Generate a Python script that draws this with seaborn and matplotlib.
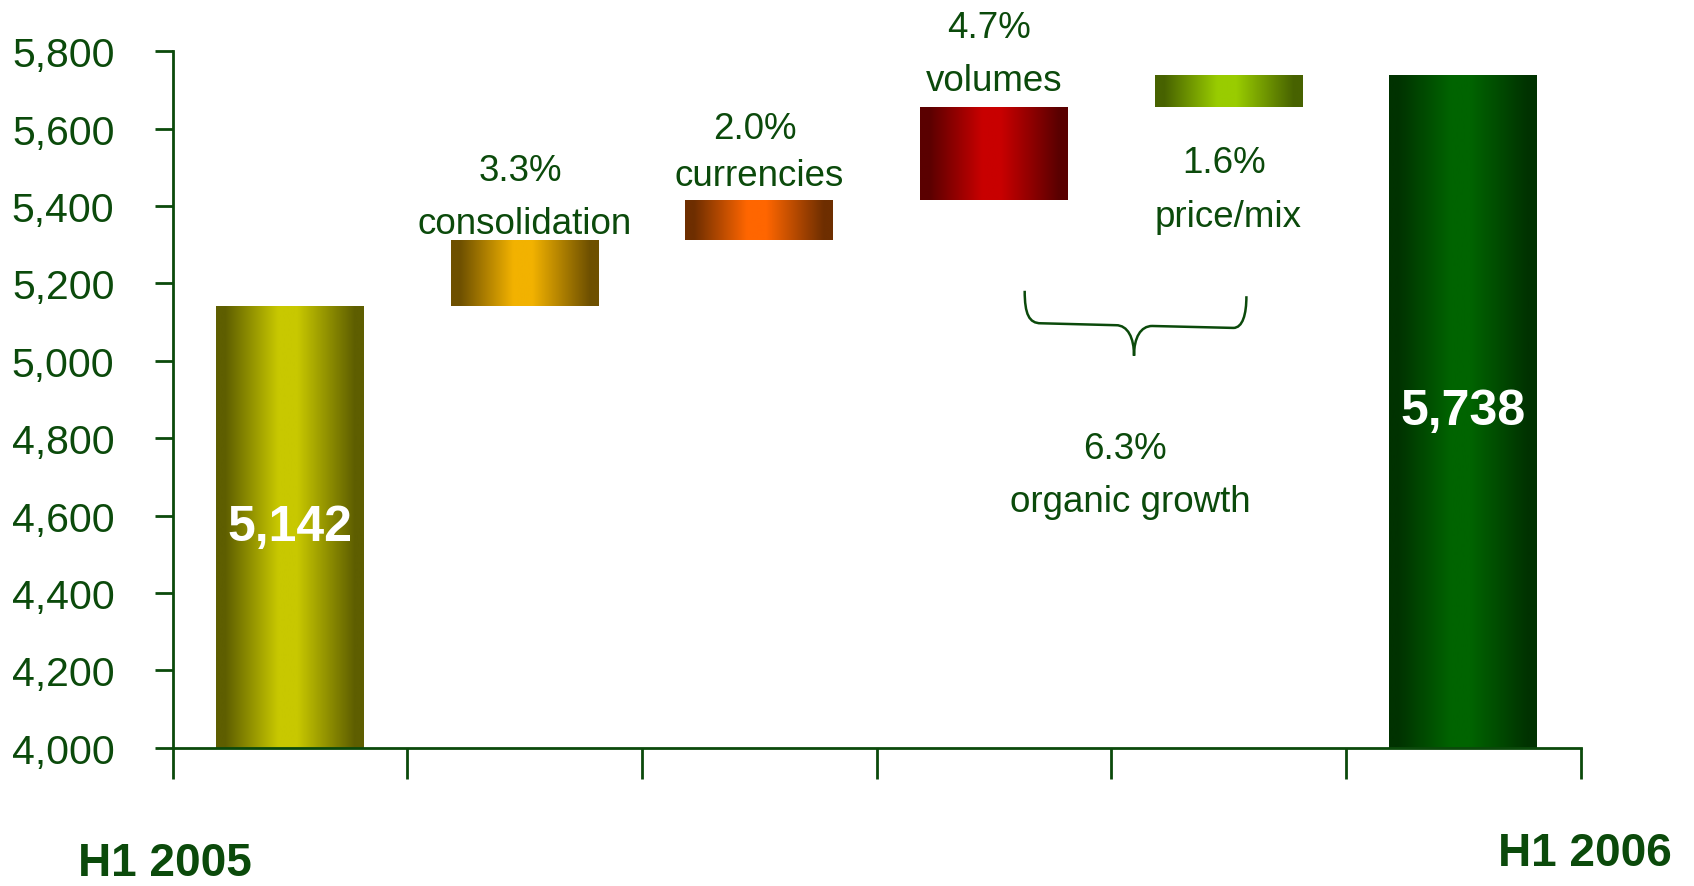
import numpy as np
import pandas as pd
import matplotlib
matplotlib.use("Agg")
import matplotlib.pyplot as plt
from matplotlib.path import Path
from matplotlib.patches import PathPatch
from matplotlib.colors import to_rgb
from matplotlib.ticker import FuncFormatter
import seaborn as sns

# ---- data -------------------------------------------------------------
categories = ["H1 2005", "consolidation", "currencies", "volumes", "price/mix", "H1 2006"]
start_value = 5142
deltas = [170, 103, 241, 82]          # consolidation, currencies, volumes, price/mix
end_value = 5738
pct_labels = ["3.3%", "2.0%", "4.7%", "1.6%", "6.3%"]
step_names = ["consolidation", "currencies", "volumes", "price/mix", "organic growth"]
y_ticks = list(range(4000, 5801, 200))

# bar colours: (edge shade, centre highlight)
bar_colors = [
    ("#5e5e00", "#c8c800"),
    ("#6e5000", "#f2b200"),
    ("#6e2e00", "#ff6600"),
    ("#5a0000", "#c80000"),
    ("#476200", "#99cc00"),
    ("#003200", "#006400"),
]

TEXT = "#0b4a0b"
FLOOR, CEIL = 4000, 5800

# ---- derived waterfall geometry ---------------------------------------
steps_end = start_value + np.cumsum(deltas)
steps_start = np.concatenate([[start_value], steps_end[:-1]])
tops = np.concatenate([[start_value], steps_end, [end_value]])
bottoms = np.concatenate([[FLOOR], steps_start, [FLOOR]])
df = pd.DataFrame({"category": categories, "top": tops})

sns.set_theme(style="white")
plt.rcParams["font.family"] = ["Liberation Sans", "DejaVu Sans"]

fig = plt.figure(figsize=(16.94, 8.87), dpi=100)
ax = fig.add_axes([0.102, 0.156, 0.831, 0.785])

sns.barplot(data=df, x="category", y="top", order=categories, width=0.63,
            ax=ax, saturation=1, color="white")


def gradient_row(dark, bright, n=256):
    d, b = np.array(to_rgb(dark)), np.array(to_rgb(bright))
    stops = [0.0, 0.06, 0.42, 0.55, 0.94, 1.0]
    w = [0.0, 0.0, 1.0, 1.0, 0.0, 0.0]
    t = np.linspace(0, 1, n)
    k = np.interp(t, stops, w)
    return (d[None, :] * (1 - k[:, None]) + b[None, :] * k[:, None])[None, :, :]


for patch, lo, hi, (dark, bright) in zip(ax.patches, bottoms, tops, bar_colors):
    patch.set_y(lo)
    patch.set_height(hi - lo)
    patch.set_facecolor("none")
    patch.set_edgecolor("none")
    x0, w = patch.get_x(), patch.get_width()
    img = ax.imshow(gradient_row(dark, bright), extent=[x0, x0 + w, lo, hi],
                    aspect="auto", interpolation="bilinear", zorder=2)
    img.set_clip_path(patch)

# totals printed inside their bars
for i, v in [(0, start_value), (len(categories) - 1, end_value)]:
    ax.text(i, (FLOOR + v) / 2, f"{v:,}", ha="center", va="center",
            color="white", fontsize=36, fontweight="bold", zorder=3)

# step annotations (percentage above, name below)
label_x = [1, 2, 3, 4, 3.58]
pct_base = [5468, 5577, 5836, 5487, 4748]
name_base = [5331, 5454, 5699, 5348, 4611]
for x, p, n, yp, yn in zip(label_x, pct_labels, step_names, pct_base, name_base):
    ax.text(x - 0.02, yp, p, ha="center", va="baseline", color=TEXT, fontsize=26.5)
    ax.text(x, yn, n, ha="center", va="baseline", color=TEXT, fontsize=26.5)

# brace grouping volumes and price/mix into organic growth
verts = [
    (3.131, 5181), (3.131, 5120), (3.150, 5097), (3.20, 5097),
    (3.52, 5092),
    (3.57, 5092), (3.597, 5060), (3.597, 5013),
    (3.597, 5060), (3.625, 5090), (3.675, 5090),
    (4.02, 5085),
    (4.06, 5085), (4.076, 5120), (4.076, 5167),
]
codes = [Path.MOVETO, Path.CURVE4, Path.CURVE4, Path.CURVE4,
         Path.LINETO,
         Path.CURVE4, Path.CURVE4, Path.CURVE4,
         Path.CURVE4, Path.CURVE4, Path.CURVE4,
         Path.LINETO,
         Path.CURVE4, Path.CURVE4, Path.CURVE4]
ax.add_patch(PathPatch(Path(verts, codes), fill=False, edgecolor=TEXT, lw=1.8, zorder=3))

# axes styling
ax.set_xlim(-0.5, len(categories) - 0.5)
ax.set_ylim(FLOOR, CEIL)
ax.set_yticks(y_ticks)
ax.yaxis.set_major_formatter(FuncFormatter(lambda v, _: f"{int(v):,}"))
ax.set_xticks(np.arange(-0.5, len(categories), 1.0))
ax.set_xticklabels([])
ax.set_xlabel("")
ax.set_ylabel("")
for side in ["top", "right"]:
    ax.spines[side].set_visible(False)
for side in ["left", "bottom"]:
    ax.spines[side].set_color(TEXT)
    ax.spines[side].set_linewidth(2)
ax.tick_params(axis="y", which="major", left=True, length=13, width=2,
               color=TEXT, labelcolor=TEXT, labelsize=29.5, pad=29)
ax.tick_params(axis="x", which="major", bottom=True, length=22, width=2,
               color=TEXT, direction="out")
ax.grid(False)

fig.text(0.0974, 0.012, categories[0], ha="center", va="baseline",
         color=TEXT, fontsize=33, fontweight="bold")
fig.text(0.9356, 0.024, categories[-1], ha="center", va="baseline",
         color=TEXT, fontsize=33, fontweight="bold")

fig.savefig("out.png", dpi=100, facecolor="white")
